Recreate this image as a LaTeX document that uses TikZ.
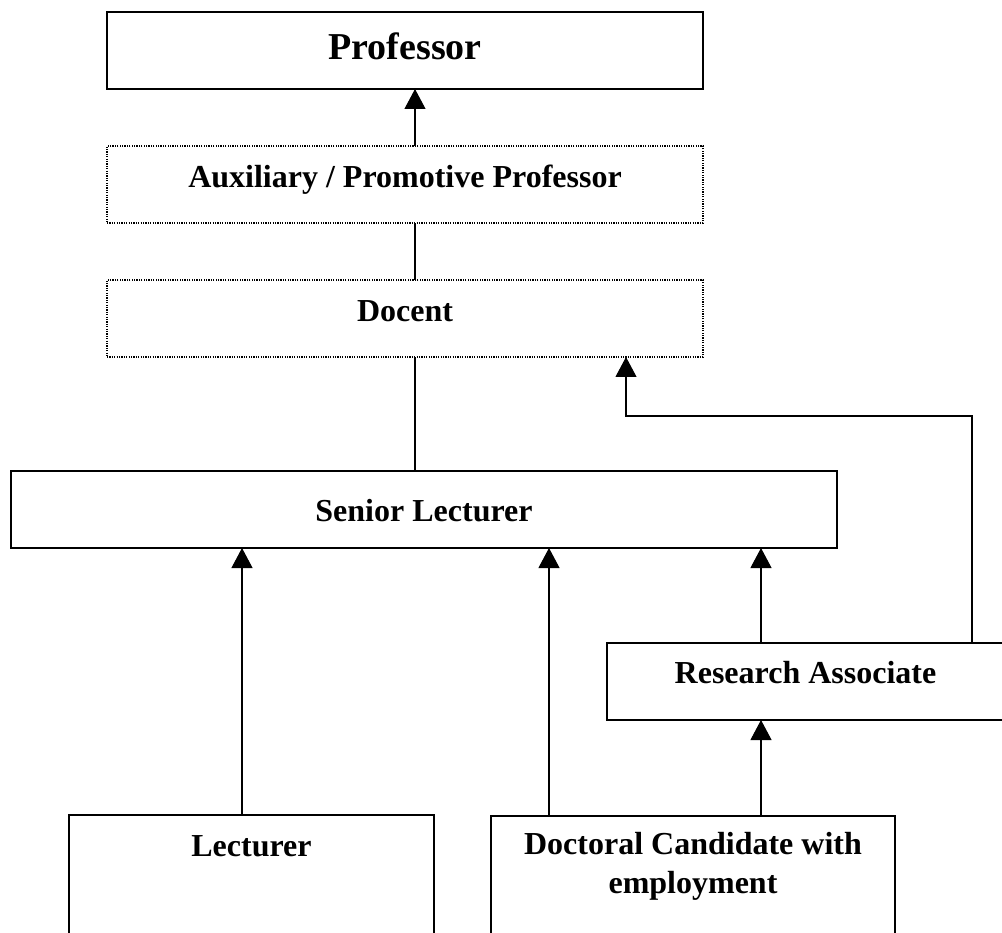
\documentclass[tikz,border=0pt]{standalone}
\usepackage{fontspec}
\setmainfont{Liberation Serif}
\usetikzlibrary{arrows.meta}
\begin{document}
\begin{tikzpicture}[x=1pt,y=-1pt,
  box/.style={draw, line width=1.2pt, rectangle, inner sep=0pt, outer sep=0pt},
  dotbox/.style={draw, line width=1.3pt, dash pattern=on 1.2pt off 1.2pt, rectangle, inner sep=0pt, outer sep=0pt},
  lbl/.style={anchor=base, inner sep=0pt, font=\fontsize{32}{39}\selectfont\bfseries, align=center},
  arr/.style={line width=1.1pt, -{Triangle[length=20pt,width=21pt]}},
  ln/.style={line width=1.1pt}]
\useasboundingbox (0,0) rectangle (1002,933);
\clip (0,0) rectangle (1002,933);
\fill[white] (0,0) rectangle (1002,933);
% boxes
\node[box, line width=1.4pt, minimum width=596pt, minimum height=77pt,
  label={[lbl, font=\fontsize{38}{44}\selectfont\bfseries, yshift=-48pt]north:Professor}] (prof) at (405,50.5) {};
\node[dotbox, minimum width=596pt, minimum height=77pt,
  label={[lbl, yshift=-42pt]north:Auxiliary / Promotive Professor}] (aux) at (405,184.5) {};
\node[dotbox, minimum width=596pt, minimum height=77pt,
  label={[lbl, yshift=-42pt]north:Docent}] (doc) at (405,318.5) {};
\node[box, minimum width=826pt, minimum height=77pt,
  label={[lbl, yshift=-50pt]north:Senior Lecturer}] (sen) at (424,509.5) {};
\node[box, minimum width=397pt, minimum height=77pt,
  label={[lbl, yshift=-40pt]north:Research Associate}] (ra) at (805.5,681.5) {};
\node[box, minimum width=365pt, minimum height=185pt,
  label={[lbl, yshift=-41pt]north:Lecturer}] (lec) at (251.5,907.5) {};
\node[box, minimum width=404pt, minimum height=184pt,
  label={[lbl, yshift=-38pt]north:{\begin{tabular}[t]{@{}c@{}}Doctoral Candidate with\\employment\end{tabular}}}] (dc) at (693,908) {};
% columns for connectors
\coordinate (cA) at (415,0);
\coordinate (cL) at (242,0);
\coordinate (cD) at (549,0);
\coordinate (cR) at (761,0);
\coordinate (cE) at (972,0);
\coordinate (cK) at (626,0);
\coordinate (elbow) at (972,416);
% connectors
\draw[arr] (cA |- aux.north) -- (cA |- prof.south);
\draw[ln] (cA |- doc.north) -- (cA |- aux.south);
\draw[ln] (cA |- sen.north) -- (cA |- doc.south);
\draw[arr] (cL |- lec.north) -- (cL |- sen.south);
\draw[arr] (cD |- dc.north) -- (cD |- sen.south);
\draw[arr] (cR |- dc.north) -- (cR |- ra.south);
\draw[arr] (cR |- ra.north) -- (cR |- sen.south);
\draw[arr] (cE |- ra.north) -- (elbow) -| (cK |- doc.south);
\end{tikzpicture}
\end{document}
